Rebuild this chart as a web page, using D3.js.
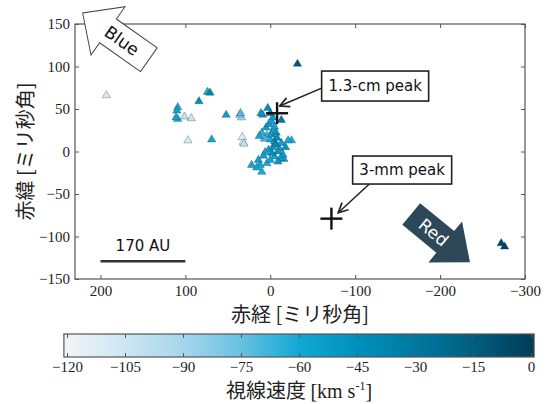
<!DOCTYPE html>
<html>
<head>
<meta charset="utf-8">
<script src="https://d3js.org/d3.v7.min.js"></script>
<style>
body { margin: 0; background: #fff; }
.tick line { stroke: #555; }
.jp { font-family: "Noto Sans CJK JP", sans-serif; fill: #222; }
.note { font-family: "DejaVu Sans", sans-serif; fill: #111; }
</style>
</head>
<body>
<svg id="chart" width="551" height="404"></svg>
<script>
// maser spots: RA offset, Dec offset (mas) and LSR velocity (km/s)
var raOffsets = [193, 109, 110, 111, 109, 101, 93, 84, 74, 71, 97, 69, 52, 36, 35, 34, 33, 31, 32,
  11, 9, 3, 0, -3, -13, -2, -5, -3, -1, 10, 13, 4, 7, 0, -5, -8, -13, -21, -25,
  -3, 2, -9, -6, -15, -12, -5, 0, 4, 8, 12, 16, 10, 22, -9, -16, -18, 5, 2, -7, 6, -2, 14, -11,
  -32, -272, -276];
var decOffsets = [66, 52, 48, 40, 38, 41, 39, 59, 70, 69, 13, 14, 43, 43, 45, 40, 17, 9, 11,
  45, 43, 51, 45, 40, 37, 35, 29, 24, 20, 22, 18, 19, 15, 14, 12, 16, 10, 13, 13,
  5, 2, 0, 8, -4, -8, -6, -10, -14, -5, -16, -19, -24, -16, -12, -9, 5, 28, 32, 22, -1, -2, -10, 3,
  103, -108, -112];
var velocities = [-108, -62, -55, -58, -65, -100, -104, -45, -62, -40, -110, -60, -55, -85, -70, -95, -112, -100, -118,
  -50, -55, -45, -40, -55, -30, -60, -58, -62, -55, -65, -58, -70, -68, -60, -50, -45, -55, -60, -62,
  -55, -60, -50, -40, -55, -52, -60, -58, -62, -55, -60, -58, -62, -60, -50, -58, -48, -57, -52, -48, -60, -45, -55, -58,
  -12, -5, -2];

var xTicks = [200, 100, 0, -100, -200, -300];
var yTicks = [-150, -100, -50, 0, 50, 100, 150];
var cbarTicks = [-120, -105, -90, -75, -60, -45, -30, -15, 0];
var cmapStops = [-120, -105, -90, -75, -60, -45, -30, -15, 0];
var cmapColors = ["#f0f4f8", "#cde6f2", "#a6d6ec", "#68c1e2", "#12a8d4", "#0090bd", "#0079a1", "#005e80", "#003d5a"];

// peaks, in mas
var peakNames = ["1.3-cm peak", "3-mm peak"];
var peakRa = [-8, -72];
var peakDec = [45, -79];

var svg = d3.select("#chart");
var x = d3.scaleLinear().domain([230, -300]).range([75, 525]);
var y = d3.scaleLinear().domain([-150, 150]).range([279, 24]);
var color = d3.scaleLinear().domain(cmapStops).range(cmapColors);

function serifTicks(g) {
  g.select(".domain").remove();
  g.selectAll(".tick text")
    .attr("font-family", "Liberation Serif, serif")
    .attr("font-size", 15)
    .attr("fill", "#222");
}

// axes, ticks inward on all sides
var fmt = d3.format("");
svg.append("g").attr("transform", "translate(0,279)")
  .call(d3.axisBottom(x).tickValues(xTicks).tickSize(-4).tickPadding(6).tickFormat(fmt))
  .call(serifTicks);
svg.append("g").attr("transform", "translate(0,24)")
  .call(d3.axisTop(x).tickValues(xTicks).tickSize(-4).tickFormat(""))
  .call(serifTicks);
svg.append("g").attr("transform", "translate(75,0)")
  .call(d3.axisLeft(y).tickValues(yTicks).tickSize(-4).tickPadding(5).tickFormat(fmt))
  .call(serifTicks);
svg.append("g").attr("transform", "translate(525,0)")
  .call(d3.axisRight(y).tickValues(yTicks).tickSize(-4).tickFormat(""))
  .call(serifTicks);

svg.append("rect")
  .attr("x", x(230)).attr("y", y(150))
  .attr("width", x(-300) - x(230)).attr("height", y(-150) - y(150))
  .attr("fill", "none").attr("stroke", "#555").attr("stroke-width", 1.2);

// axis labels
svg.append("text").attr("class", "jp")
  .attr("x", x(-35)).attr("y", 322)
  .attr("text-anchor", "middle").attr("font-size", 20)
  .text("赤経 [ミリ秒角]");
svg.append("text").attr("class", "jp")
  .attr("transform", "translate(33," + y(0) + ") rotate(-90)")
  .attr("text-anchor", "middle").attr("font-size", 20)
  .text("赤緯 [ミリ秒角]");

// arrows for outflow direction
function arrowPoints(L, sw, hw, hl) {
  return [[0, -sw / 2], [L - hl, -sw / 2], [L - hl, -hw / 2], [L, 0],
          [L - hl, hw / 2], [L - hl, sw / 2], [0, sw / 2]].join(" ");
}
var blue = svg.append("g")
  .attr("transform", "translate(" + x(143) + "," + y(108) + ") rotate(215.2)");
blue.append("polygon").attr("points", arrowPoints(81, 29, 59, 31))
  .attr("fill", "#fff").attr("stroke", "#444").attr("stroke-width", 1);
blue.append("text").attr("class", "note")
  .attr("transform", "translate(33,0) rotate(180)")
  .attr("text-anchor", "middle").attr("dy", "0.36em").attr("font-size", 17)
  .text("Blue");

var red = svg.append("g")
  .attr("transform", "translate(" + x(-166) + "," + y(-73.5) + ") rotate(39.4)");
red.append("polygon").attr("points", arrowPoints(76, 28, 53, 32))
  .attr("fill", "#2d4858");
red.append("text").attr("class", "note")
  .attr("x", 29).attr("dy", "0.36em")
  .attr("text-anchor", "middle").attr("font-size", 17)
  .style("fill", "#fff")
  .text("Red");

// scale bar
svg.append("line")
  .attr("x1", x(200)).attr("x2", x(100)).attr("y1", y(-129)).attr("y2", y(-129))
  .attr("stroke", "#333").attr("stroke-width", 2.5);
svg.append("text").attr("class", "note")
  .attr("x", x(150)).attr("y", y(-117))
  .attr("text-anchor", "middle").attr("font-size", 15)
  .text("170 AU");

// maser spots
var spots = raOffsets.map(function(r, i) { return { ra: r, dec: decOffsets[i], v: velocities[i] }; });
spots.sort(function(a, b) { return a.v - b.v; });
svg.append("g").selectAll("path").data(spots).enter().append("path")
  .attr("transform", function(d) { return "translate(" + x(d.ra) + "," + y(d.dec) + ")"; })
  .attr("d", d3.symbol().type(d3.symbolTriangle).size(30))
  .attr("fill", function(d) { return color(d.v); })
  .attr("stroke", "#1e3a4a").attr("stroke-opacity", 0.55).attr("stroke-width", 0.6);

// peak crosses
var cross = svg.append("g").selectAll("g").data(peakNames).enter().append("g")
  .attr("transform", function(d, i) { return "translate(" + x(peakRa[i]) + "," + y(peakDec[i]) + ")"; });
cross.append("line").attr("x1", -11).attr("x2", 11).attr("stroke", "#111").attr("stroke-width", 2.4);
cross.append("line").attr("y1", -11).attr("y2", 11).attr("stroke", "#111").attr("stroke-width", 2.4);

// labels for peaks
var defs = svg.append("defs");
defs.append("marker").attr("id", "head")
  .attr("viewBox", "0 0 10 10").attr("refX", 9).attr("refY", 5)
  .attr("markerWidth", 8).attr("markerHeight", 8).attr("orient", "auto-start-reverse")
  .append("path").attr("d", "M1,1 L9,5 L1,9").attr("fill", "none")
  .attr("stroke", "#222").attr("stroke-width", 1.4);

var boxRa = [-123.5, -155.3];
var boxDec = [77, -21.8];
var boxW = [107, 99];
var boxH = [30, 28];
// arrow start and end, mas
var fromRa = [-60.6, -117], fromDec = [74.5, -38];
var toRa = [-11, -80], toDec = [53.5, -72];

peakNames.forEach(function(name, i) {
  svg.append("line")
    .attr("x1", x(fromRa[i])).attr("y1", y(fromDec[i]))
    .attr("x2", x(toRa[i])).attr("y2", y(toDec[i]))
    .attr("stroke", "#222").attr("stroke-width", 1.5)
    .attr("marker-end", "url(#head)");
  svg.append("rect")
    .attr("x", x(boxRa[i]) - boxW[i] / 2).attr("y", y(boxDec[i]) - boxH[i] / 2)
    .attr("width", boxW[i]).attr("height", boxH[i])
    .attr("fill", "#fff").attr("stroke", "#222").attr("stroke-width", 1.6);
  svg.append("text").attr("class", "note")
    .attr("x", x(boxRa[i])).attr("y", y(boxDec[i])).attr("dy", "0.36em")
    .attr("text-anchor", "middle").attr("font-size", 15)
    .text(name);
});

// colour bar
var cx = d3.scaleLinear().domain([-120, 0]).range([67, 531]);
var grad = defs.append("linearGradient").attr("id", "cmap")
  .attr("x1", "0%").attr("x2", "100%").attr("y1", "0%").attr("y2", "0%");
var lo = -120.8, hi = 0.8;
cmapStops.forEach(function(s, i) {
  grad.append("stop").attr("offset", ((s - lo) / (hi - lo) * 100) + "%").attr("stop-color", cmapColors[i]);
});
svg.append("rect")
  .attr("x", cx(lo)).attr("y", 334).attr("width", cx(hi) - cx(lo)).attr("height", 23)
  .attr("fill", "url(#cmap)").attr("stroke", "#555").attr("stroke-width", 1.2);
svg.append("g").attr("transform", "translate(0,357)")
  .call(d3.axisBottom(cx).tickValues(cbarTicks).tickSize(-4).tickPadding(4).tickFormat(fmt))
  .call(serifTicks);
svg.append("g").attr("transform", "translate(0,334)")
  .call(d3.axisTop(cx).tickValues(cbarTicks).tickSize(-4).tickFormat(""))
  .call(serifTicks);

var cl = svg.append("text").attr("class", "jp")
  .attr("x", cx(-60)).attr("y", 398)
  .attr("text-anchor", "middle").attr("font-size", 20);
cl.append("tspan").text("視線速度 ");
cl.append("tspan").attr("font-family", "Liberation Serif, serif").text("[km s");
cl.append("tspan").attr("font-family", "Liberation Serif, serif").attr("font-size", 12).attr("dy", -8).text("-1");
cl.append("tspan").attr("font-family", "Liberation Serif, serif").attr("dy", 8).text("]");
</script>
</body>
</html>
